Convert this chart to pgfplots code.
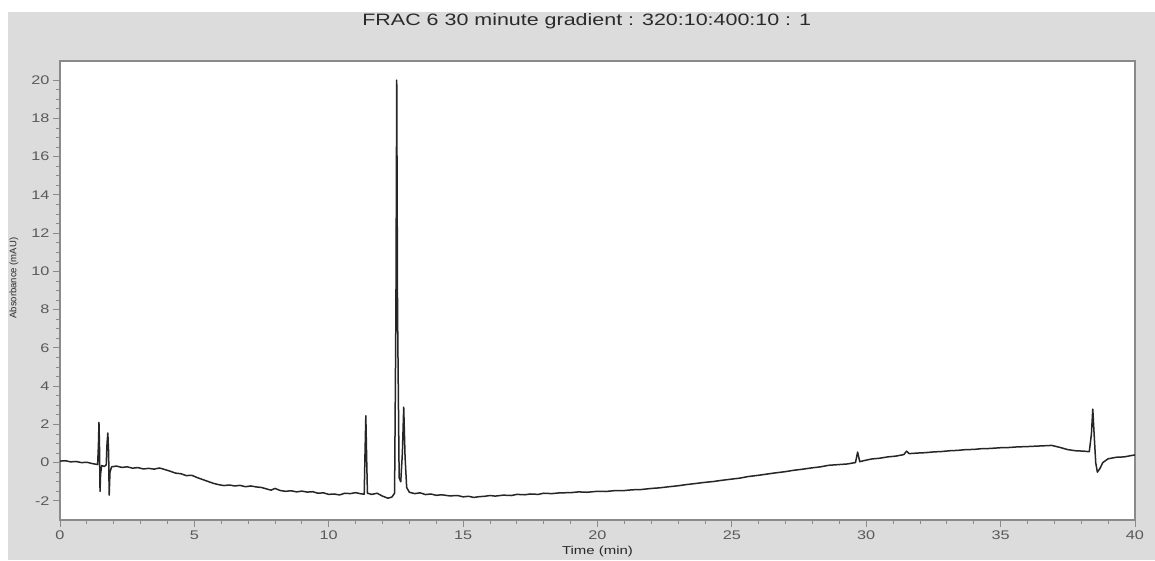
\documentclass[border=0pt]{standalone}
\usepackage{fontspec}
\setmainfont{Liberation Sans}[FakeStretch=1.3]
\newfontfamily\plainsans{Liberation Sans}
\usepackage{pgfplots}
\pgfplotsset{compat=1.18}
\definecolor{panel}{HTML}{DCDCDC}
\definecolor{frame}{HTML}{8A8A8A}
\definecolor{ticktext}{HTML}{5A5A5A}
\definecolor{titletext}{HTML}{2A2A2A}
\pgfplotstableread{
x y
0.00 0.08
0.20 0.10
0.40 0.04
0.60 0.06
0.80 0.00
1.00 0.02
1.20 -0.05
1.40 -0.10
1.43 0.9
1.45 2.1
1.47 0.8
1.49 -1.5
1.51 -0.6
1.55 -0.15
1.65 -0.2
1.72 -0.12
1.75 1.0
1.78 1.55
1.81 0.5
1.83 -1.7
1.86 -0.5
1.92 -0.22
2.10 -0.18
2.30 -0.25
2.50 -0.22
2.70 -0.29
2.90 -0.26
3.10 -0.33
3.30 -0.30
3.50 -0.34
3.70 -0.28
3.90 -0.36
4.10 -0.45
4.30 -0.55
4.50 -0.58
4.70 -0.68
4.90 -0.66
5.10 -0.78
5.30 -0.88
5.50 -0.98
5.70 -1.08
5.90 -1.15
6.10 -1.20
6.30 -1.17
6.50 -1.22
6.70 -1.19
6.90 -1.26
7.10 -1.22
7.30 -1.27
7.50 -1.30
7.70 -1.38
7.85 -1.44
8.00 -1.35
8.20 -1.46
8.40 -1.50
8.60 -1.47
8.80 -1.53
9.00 -1.49
9.20 -1.54
9.40 -1.52
9.60 -1.60
9.80 -1.58
10.00 -1.66
10.20 -1.64
10.40 -1.69
10.60 -1.60
10.80 -1.62
11.00 -1.57
11.20 -1.63
11.32 -1.65
11.35 0.5
11.38 2.45
11.41 0.3
11.44 -1.6
11.60 -1.66
11.80 -1.60
12.00 -1.75
12.20 -1.86
12.35 -1.80
12.45 -1.60
12.50 8
12.53 20.0
12.56 8
12.62 -0.8
12.68 -1.0
12.74 0.5
12.79 2.9
12.84 0.3
12.90 -1.3
13.00 -1.55
13.20 -1.62
13.40 -1.58
13.60 -1.67
13.80 -1.64
14.00 -1.71
14.20 -1.68
14.50 -1.74
14.80 -1.72
15.00 -1.79
15.20 -1.76
15.40 -1.82
15.60 -1.78
15.80 -1.76
16.00 -1.72
16.20 -1.75
16.50 -1.70
16.80 -1.72
17.00 -1.66
17.30 -1.68
17.50 -1.64
17.80 -1.66
18.00 -1.60
18.30 -1.62
18.60 -1.58
19.00 -1.57
19.30 -1.53
19.60 -1.55
20.00 -1.50
20.30 -1.51
20.60 -1.47
21.00 -1.46
21.30 -1.42
21.60 -1.41
22.00 -1.35
22.30 -1.32
22.60 -1.27
23.00 -1.21
23.30 -1.15
23.60 -1.10
24.00 -1.03
24.30 -0.99
24.60 -0.93
25.00 -0.86
25.30 -0.81
25.60 -0.73
26.00 -0.66
26.30 -0.60
26.60 -0.54
27.00 -0.47
27.30 -0.40
27.60 -0.35
28.00 -0.27
28.30 -0.22
28.60 -0.14
29.00 -0.10
29.30 -0.07
29.50 -0.02
29.60 0.00
29.68 0.55
29.76 0.05
29.90 0.10
30.20 0.19
30.50 0.23
30.80 0.30
31.10 0.34
31.40 0.42
31.50 0.60
31.60 0.47
31.90 0.50
32.20 0.52
32.50 0.56
32.80 0.58
33.10 0.62
33.40 0.64
33.70 0.68
34.00 0.69
34.30 0.73
34.60 0.74
35.00 0.78
35.30 0.79
35.60 0.82
36.00 0.84
36.30 0.86
36.60 0.88
36.90 0.90
37.20 0.80
37.50 0.68
37.80 0.62
38.10 0.60
38.30 0.57
38.38 1.5
38.43 2.8
38.48 1.5
38.54 0.0
38.60 -0.5
38.70 -0.3
38.80 0.0
39.00 0.20
39.30 0.28
39.60 0.30
39.90 0.38
40.00 0.40
}\chromdata
\begin{document}
\begin{tikzpicture}
\useasboundingbox (0pt,0pt) rectangle (1155pt,560pt);
\fill[white] (0pt,0pt) rectangle (1155pt,560pt);
\fill[panel] (8pt,0pt) rectangle (1155pt,548pt);
\begin{axis}[
  at={(60pt,40pt)}, anchor=south west,
  scale only axis, width=1075pt, height=459pt,
  xmin=0, xmax=40, ymin=-3, ymax=21,
  axis background/.style={fill=white},
  axis line style={frame, line width=1.6pt},
  xtick={0,5,...,40}, ytick={-2,0,...,20},
  minor x tick num=4, minor y tick num=3,
  tick align=outside, tick pos=left,
  major tick length=7pt, minor tick length=4pt,
  every tick/.style={frame, line width=0.8pt},
  tick label style={font=\fontsize{12.5}{14}\selectfont, text=ticktext},
  /pgf/number format/assume math mode=true,
  title={FRAC 6 30 minute gradient : 320:10:400:10 : 1},
  title style={at={(axis description cs:0.49,1)}, anchor=center, yshift=34pt,
    font=\fontsize{16.5}{18}\selectfont, text=titletext},
  xlabel={Time (min)},
  xlabel style={at={(axis description cs:0.5,-0.0697)}, anchor=center,
    font=\fontsize{11.5}{13}\selectfont, text=titletext},
  ylabel={Absorbance (mAU)},
  ylabel style={at={(axis description cs:-0.0428,0.527)}, anchor=center,
    font=\plainsans\fontsize{9.5}{11}\selectfont, text=titletext},
]
\addplot[black!85, line width=1.5pt, line join=round, mark=none] table[x=x, y=y] {\chromdata};
\end{axis}
\end{tikzpicture}
\end{document}
